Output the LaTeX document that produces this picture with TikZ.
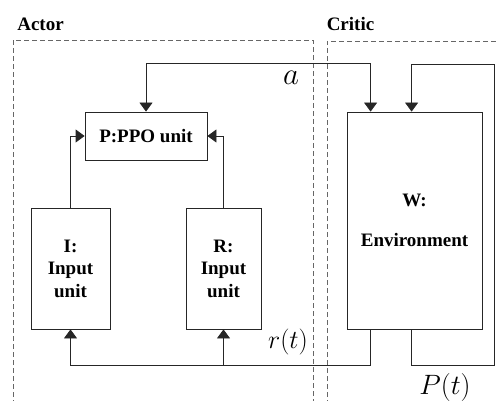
\RequirePackage{fix-cm}
\documentclass[tikz,border=0pt]{standalone}
\usepackage{fontspec}
\setmainfont{Liberation Serif}[BoldFont={Liberation Serif Bold},ItalicFont={Liberation Serif Italic}]
\newfontfamily\unitfont{Liberation Serif Bold}
\usetikzlibrary{arrows.meta,calc}
\begin{document}
\begin{tikzpicture}[x=1pt,y=-1pt,
  every node/.style={font=\unitfont\fontsize{19}{22.5}\selectfont},
  unitbox/.style={draw=black!85,line width=0.8pt,align=center,inner sep=0pt},
  link/.style={draw=black!85,line width=0.8pt},
  arr/.style={link,-{Triangle[width=13pt,length=9pt]}},
  biarr/.style={link,{Triangle[width=13pt,length=9pt]}-{Triangle[width=13pt,length=9pt]}},
  region/.style={draw=black!60,line width=0.7pt,dash pattern=on 5pt off 3pt},
  sym/.style={font=\fontsize{28}{30}\selectfont,inner sep=0pt}]
\useasboundingbox (0,0) rectangle (498,401);

% actor and critic regions (open at the bottom)
\draw[region] (13,405) -- (13,40) -- (313,40) -- (313,405);
\draw[region] (327,405) -- (327,41) -- (502,41);
\node (actor) at (40.5,24) {Actor};
\node (critic) at (350.5,24) {Critic};

% units
\node[unitbox,minimum width=122pt,minimum height=48pt] (ppo) at (146,136) {P:PPO unit};
\node[unitbox,minimum width=79pt,minimum height=121pt] (inI) at (70.5,268.5) {I:\\Input\\unit};
\node[unitbox,minimum width=75pt,minimum height=121pt] (inR) at (223.5,268.5) {R:\\Input\\unit};
\node[unitbox,minimum width=135pt,minimum height=217pt] (env) at (414.5,220.5) {W:\\[17pt]Environment};

% attachment points on the environment
\coordinate (envA) at ($(env.north west)+(24,0)$);
\coordinate (envP) at ($(env.north west)+(65,0)$);
\coordinate (envR) at ($(env.south west)+(24,0)$);
\coordinate (envQ) at ($(env.south west)+(65,0)$);

% input units feed the PPO unit
\draw[arr] (inI.north) |- (ppo.west);
\draw[arr] (inR.north) |- (ppo.east);

% action a between PPO unit and environment
\draw[biarr] (ppo.north) -- ++(0,-48) -| (envA);
\node[sym,font=\fontsize{31}{33}\selectfont] (lblA) at (291,78) {$a$};

% reward r(t) back to the input units
\draw[arr] (envR) -- ++(0,36) -| (inI.south);
\draw[arr] (inR.south |- 0,365) -- (inR.south);
\node[sym,font=\fontsize{26}{28}\selectfont] (lblR) at (288,342) {$r(t)$};

% state P(t) loop of the environment
\draw[arr] (envQ) -- ++(0,36) -| (494,64) -| (envP);
\node[sym] (lblP) at (445,387) {$P(t)$};
\end{tikzpicture}
\end{document}
